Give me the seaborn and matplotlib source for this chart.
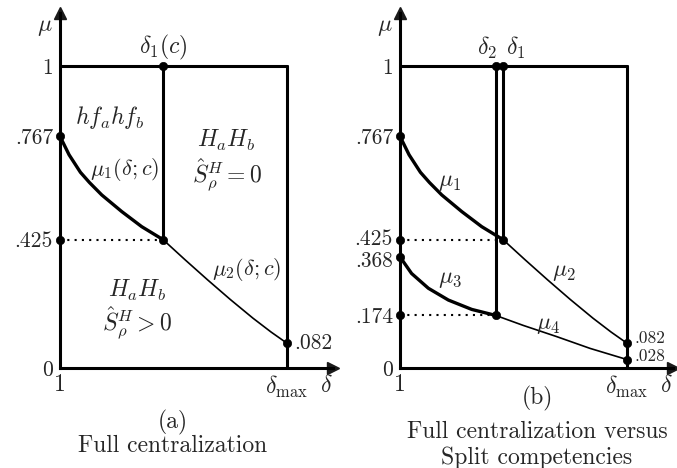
import numpy as np
import pandas as pd
import seaborn as sns
import matplotlib.pyplot as plt
from matplotlib.transforms import ScaledTranslation

# delta positions (delta = 1 at left axis, delta_max = 2)
d_lo = 1.0
d_max = 2.0
d1 = 1.454
d2 = 1.422

# curves
mu1_x = [1.0, 1.04, 1.09, 1.13, 1.184, 1.272, 1.36, 1.454]
mu1_y = [0.767, 0.706, 0.648, 0.614, 0.573, 0.518, 0.468, 0.425]
mu2_x = [1.454, 1.55, 1.65, 1.75, 1.85, 1.93, 2.0]
mu2_y = [0.425, 0.359, 0.292, 0.227, 0.165, 0.119, 0.082]
mu3_x = [1.0, 1.051, 1.125, 1.213, 1.316, 1.422]
mu3_y = [0.368, 0.313, 0.264, 0.225, 0.194, 0.174]
mu4_x = [1.422, 1.543, 1.690, 1.837, 2.0]
mu4_y = [0.174, 0.141, 0.104, 0.065, 0.028]

yticks_a = [0, 0.425, 0.767, 1]
ylabels_a = ['0', '.425', '.767', '1']
yticks_b = [0, 0.174, 0.368, 0.425, 0.767, 1]
ylabels_b = ['0', '.174', '.368', '.425', '.767', '1']

sns.set_theme(style='white')
plt.rcParams['font.family'] = 'serif'
plt.rcParams['font.serif'] = ['cmr10']
plt.rcParams['mathtext.fontset'] = 'cm'
plt.rcParams['axes.formatter.use_mathtext'] = True

fig = plt.figure(figsize=(6.77, 4.68), dpi=100)
W, H = 677, 468
ax1 = fig.add_axes([60 / W, 100 / H, 273 / W, 355 / H])
ax2 = fig.add_axes([400 / W, 100 / H, 273 / W, 355 / H])

LW = 2.2
FS = 15.5
MS = 17  # math labels in regions


def curve(ax, xs, ys, lw):
    df = pd.DataFrame({'x': xs, 'y': ys})
    sns.lineplot(data=df, x='x', y='y', ax=ax, color='black', lw=lw,
                 sort=False, estimator=None, zorder=3)


def dots(ax, xs, ys):
    sns.scatterplot(x=xs, y=ys, ax=ax, color='black', s=36, zorder=5,
                    edgecolor='black', clip_on=False)


def frame(ax, yticks, ylabels):
    ax.set_xlim(1, 1 + 273 / 227)
    ax.set_ylim(0, 355 / 302)
    for s in ['top', 'right']:
        ax.spines[s].set_visible(False)
    for s in ['left', 'bottom']:
        ax.spines[s].set_linewidth(LW)
        ax.spines[s].set_color('black')
    ax.plot(1, 0, '>k', ms=8, transform=ax.transAxes, clip_on=False)
    ax.plot(0, 1, '^k', ms=8, transform=ax.transAxes, clip_on=False)
    ax.set_xticks([d_lo, d_max])
    ax.set_xticklabels(['1', r'$\delta_{\rm max}$'])
    ax.set_yticks(yticks)
    ax.set_yticklabels(ylabels)
    ax.tick_params(length=0, labelsize=FS, pad=5)
    ax.tick_params(axis='x', labelsize=17, pad=4)
    ax.set_xlabel('')
    ax.set_ylabel('')
    ax.grid(False)
    # box
    ax.plot([d_lo, d_max], [1, 1], color='black', lw=LW)
    ax.plot([d_max, d_max], [0, 1], color='black', lw=LW)
    ax.text(2.175, -0.058, r'$\delta$', fontsize=17, ha='center', va='center')
    ax.text(0.935, 1.13, r'$\mu$', fontsize=17, ha='center', va='center')


dot_style = dict(color='black', lw=1.5, linestyle=(0, (1, 2.5)))

# ---- panel (a)
ax1.plot([d1, d1], [0.425, 1], color='black', lw=LW)
ax1.plot([d_lo, d1], [0.425, 0.425], **dot_style)
curve(ax1, mu1_x, mu1_y, 2.4)
curve(ax1, mu2_x, mu2_y, 1.2)
dots(ax1, [1, 1, d1, d1, d_max], [0.767, 0.425, 0.425, 1, 0.082])
frame(ax1, yticks_a, ylabels_a)
ax1.text(1.220, 0.828, r'$hf_ahf_b$', fontsize=MS, ha='center', va='center')
ax1.text(1.734, 0.752, r'$H_aH_b$', fontsize=MS, ha='center', va='center')
ax1.text(1.734, 0.640, r'$\hat{S}_\rho^H=0$', fontsize=MS, ha='center', va='center')
ax1.text(1.286, 0.656, r'$\mu_1(\delta;c)$', fontsize=16, ha='center', va='center')
ax1.text(1.822, 0.325, r'$\mu_2(\delta;c)$', fontsize=16, ha='center', va='center')
ax1.text(1.338, 0.256, r'$H_aH_b$', fontsize=MS, ha='center', va='center')
ax1.text(1.338, 0.150, r'$\hat{S}_\rho^H>0$', fontsize=MS, ha='center', va='center')
ax1.text(2.03, 0.082, '.082', fontsize=FS, ha='left', va='center')
ax1.text(d1, 1.06, r'$\delta_1(c)$', fontsize=17, ha='center', va='center')

# ---- panel (b)
ax2.plot([d2, d2], [0.174, 1], color='black', lw=LW)
ax2.plot([d1, d1], [0.425, 1], color='black', lw=LW)
ax2.plot([d_lo, d2], [0.425, 0.425], **dot_style)
ax2.plot([d_lo, d2], [0.174, 0.174], **dot_style)
curve(ax2, mu1_x, mu1_y, 2.4)
curve(ax2, mu2_x, mu2_y, 1.2)
curve(ax2, mu3_x, mu3_y, 2.4)
curve(ax2, mu4_x, mu4_y, 1.2)
dots(ax2, [1, 1, 1, 1, d2, d1, d1, d2, d_max, d_max],
     [0.767, 0.425, 0.368, 0.174, 1, 1, 0.425, 0.174, 0.082, 0.028])
frame(ax2, yticks_b, ylabels_b)
# nudge the two close tick labels apart a little
for lab in ax2.get_yticklabels():
    if lab.get_text() == '.425':
        lab.set_transform(lab.get_transform() + ScaledTranslation(0, 1.5 / 72, fig.dpi_scale_trans))
    elif lab.get_text() == '.368':
        lab.set_transform(lab.get_transform() + ScaledTranslation(0, -1.5 / 72, fig.dpi_scale_trans))
ax2.text(1.382, 1.06, r'$\delta_2$', fontsize=17, ha='center', va='center')
ax2.text(1.511, 1.06, r'$\delta_1$', fontsize=17, ha='center', va='center')
ax2.text(1.220, 0.617, r'$\mu_1$', fontsize=17, ha='center', va='center')
ax2.text(1.722, 0.319, r'$\mu_2$', fontsize=17, ha='center', va='center')
ax2.text(1.220, 0.295, r'$\mu_3$', fontsize=17, ha='center', va='center')
ax2.text(1.653, 0.142, r'$\mu_4$', fontsize=17, ha='center', va='center')
ax2.text(2.035, 0.099, '.082', fontsize=12.5, ha='left', va='center')
ax2.text(2.035, 0.040, '.028', fontsize=12.5, ha='left', va='center')

# captions
fig.text(173 / W, 1 - 422 / H, '(a)', fontsize=17, ha='center', va='center')
fig.text(173 / W, 1 - 446 / H, 'Full centralization', fontsize=17, ha='center', va='center')
fig.text(537 / W, 1 - 398 / H, '(b)', fontsize=17, ha='center', va='center')
fig.text(537 / W, 1 - 432 / H, 'Full centralization versus', fontsize=17, ha='center', va='center')
fig.text(537 / W, 1 - 458 / H, 'Split competencies', fontsize=17, ha='center', va='center')

fig.savefig('out.png', dpi=100)
